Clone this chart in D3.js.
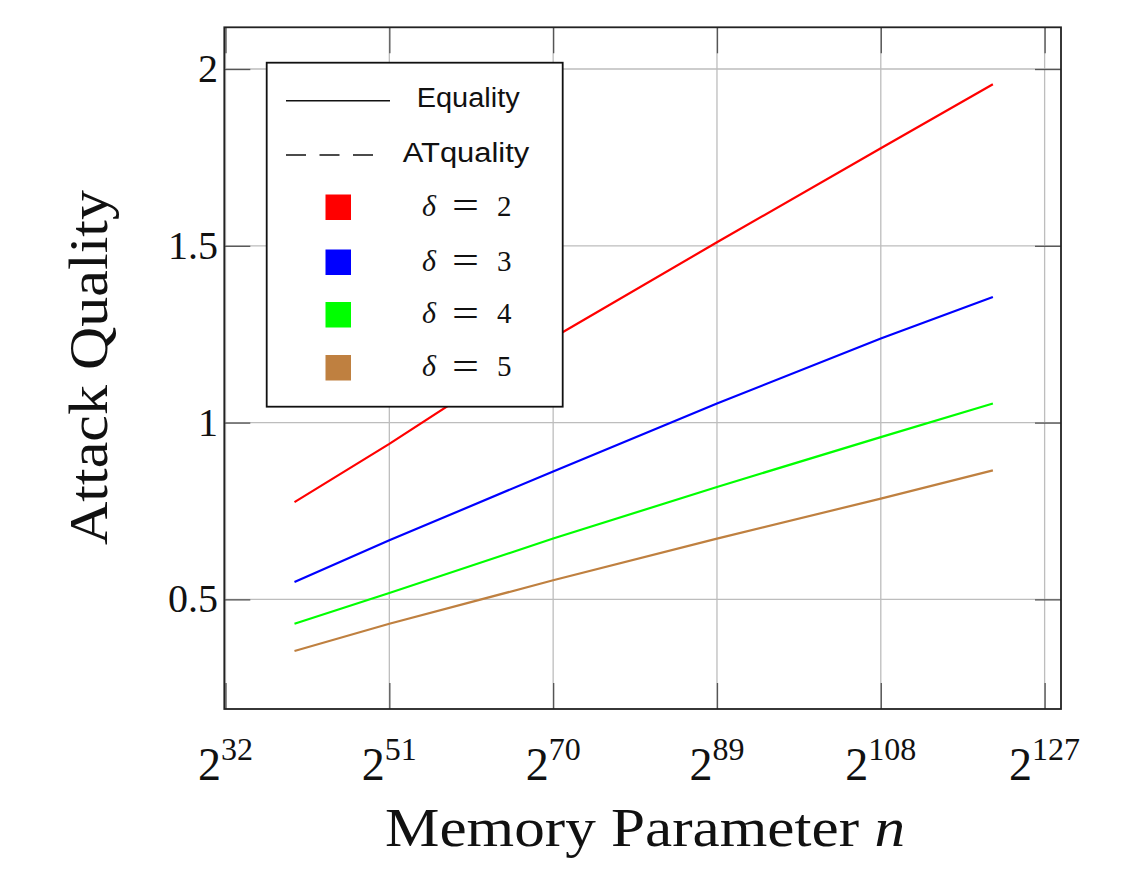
<!DOCTYPE html>
<html>
<head>
<meta charset="utf-8">
<script src="https://cdn.jsdelivr.net/npm/d3@7"></script>
<style>
  html, body { margin: 0; padding: 0; background: #fff; }
  svg { display: block; }
</style>
</head>
<body>
<svg id="chart" width="1136" height="879"></svg>
<script>
// ---- data ----
const exponents = [40, 51, 70, 89, 108, 121];          // n = 2^exponent
const equalityDelta2 = [0.775, 0.94, 1.24, 1.51, 1.776, 1.957];
const equalityDelta3 = [0.549, 0.667, 0.862, 1.054, 1.238, 1.355];
const equalityDelta4 = [0.431, 0.518, 0.672, 0.818, 0.959, 1.054];
const equalityDelta5 = [0.354, 0.431, 0.554, 0.672, 0.785, 0.865];
const deltas = [2, 3, 4, 5];
const seriesColors = ["#ff0000", "#0000ff", "#00ff00", "#bf8040"];
const xTickExponents = [32, 51, 70, 89, 108, 127];
const yTickValues = [0.5, 1, 1.5, 2];
const yTickLabels = ["0.5", "1", "1.5", "2"];

const series = [equalityDelta2, equalityDelta3, equalityDelta4, equalityDelta5].map((vals, i) => ({
  delta: deltas[i],
  color: seriesColors[i],
  points: exponents.map((e, j) => ({ n: Math.pow(2, e), q: vals[j] }))
}));

// ---- layout ----
const svg = d3.select("#chart");
const L = 224.3, R = 1061, T = 27.3, B = 709;

const x = d3.scaleLog().base(2)
  .domain([Math.pow(2, 31.86), Math.pow(2, 128.9)])
  .range([L, R]);
const y = d3.scaleLinear().domain([0.19, 2.118]).range([B, T]);

const serif = "'Liberation Serif', 'Times New Roman', serif";
const sans = "'Liberation Sans', Arial, sans-serif";

// grid
const g = svg.append("g");
g.append("g").selectAll("line").data(xTickExponents).join("line")
  .attr("x1", d => x(Math.pow(2, d))).attr("x2", d => x(Math.pow(2, d)))
  .attr("y1", T).attr("y2", B)
  .attr("stroke", "#bdbdbd").attr("stroke-width", 1.3);
g.append("g").selectAll("line").data(yTickValues).join("line")
  .attr("x1", L).attr("x2", R)
  .attr("y1", d => y(d)).attr("y2", d => y(d))
  .attr("stroke", "#bdbdbd").attr("stroke-width", 1.3);

// inner ticks on all four sides
const tickLen = 26;
const axB = d3.axisBottom(x).tickValues(xTickExponents.map(e => Math.pow(2, e))).tickSize(-tickLen).tickFormat("");
const axT = d3.axisTop(x).tickValues(xTickExponents.map(e => Math.pow(2, e))).tickSize(-tickLen).tickFormat("");
const axL = d3.axisLeft(y).tickValues(yTickValues).tickSize(-tickLen).tickFormat("");
const axR = d3.axisRight(y).tickValues(yTickValues).tickSize(-tickLen).tickFormat("");
[[axB, `translate(0,${B})`], [axT, `translate(0,${T})`], [axL, `translate(${L},0)`], [axR, `translate(${R},0)`]]
  .forEach(([ax, tr]) => {
    const a = svg.append("g").attr("transform", tr).call(ax);
    a.select(".domain").remove();
    a.selectAll("line").attr("stroke", "#555").attr("stroke-width", 1.3);
  });

// lines
const line = d3.line().x(d => x(d.n)).y(d => y(d.q));
svg.append("g").selectAll("path").data(series).join("path")
  .attr("d", d => line(d.points))
  .attr("fill", "none")
  .attr("stroke", d => d.color)
  .attr("stroke-width", 2.2);

// frame
svg.append("rect").attr("x", L).attr("y", T).attr("width", R - L).attr("height", B - T)
  .attr("fill", "none").attr("stroke", "#222").attr("stroke-width", 1.8);

// x tick labels 2^k
const xl = svg.append("g").selectAll("text").data(xTickExponents).join("text")
  .attr("x", d => x(Math.pow(2, d)))
  .attr("y", 780)
  .attr("text-anchor", "middle")
  .attr("font-family", serif)
  .attr("font-size", 46)
  .attr("fill", "#111");
xl.append("tspan").text("2");
xl.append("tspan").attr("dy", -20).attr("font-size", 32).text(d => d);

// y tick labels
svg.append("g").selectAll("text").data(yTickValues).join("text")
  .attr("x", 218)
  .attr("y", d => y(d) + 13)
  .attr("text-anchor", "end")
  .attr("font-family", serif)
  .attr("font-size", 40)
  .attr("fill", "#111")
  .text((d, i) => yTickLabels[i]);

// axis titles
const xt = svg.append("text")
  .attr("x", 645).attr("y", 846)
  .attr("text-anchor", "middle")
  .attr("font-family", serif).attr("font-size", 55).attr("fill", "#111")
  .attr("textLength", 520).attr("lengthAdjust", "spacingAndGlyphs");
xt.append("tspan").text("Memory Parameter ");
xt.append("tspan").attr("font-style", "italic").text("n");

svg.append("text")
  .attr("transform", "translate(107,367.5) rotate(-90)")
  .attr("text-anchor", "middle")
  .attr("font-family", serif).attr("font-size", 55).attr("fill", "#111")
  .attr("textLength", 355).attr("lengthAdjust", "spacingAndGlyphs")
  .text("Attack Quality");

// legend
const lg = svg.append("g");
lg.append("rect").attr("x", 266.7).attr("y", 62.7).attr("width", 296).attr("height", 344)
  .attr("fill", "#fff").attr("stroke", "#111").attr("stroke-width", 1.8);
lg.append("line").attr("x1", 286).attr("x2", 390).attr("y1", 100.7).attr("y2", 100.7)
  .attr("stroke", "#111").attr("stroke-width", 1.6);
lg.append("text").attr("x", 416.7).attr("y", 107.3)
  .attr("font-family", sans).attr("font-size", 27).attr("fill", "#111")
  .attr("textLength", 103).attr("lengthAdjust", "spacingAndGlyphs").text("Equality");
lg.append("line").attr("x1", 286).attr("x2", 377).attr("y1", 155).attr("y2", 155)
  .attr("stroke", "#111").attr("stroke-width", 1.6).attr("stroke-dasharray", "20,13.5");
lg.append("text").attr("x", 402.7).attr("y", 161.7)
  .attr("font-family", sans).attr("font-size", 27).attr("fill", "#111")
  .attr("textLength", 126.6).attr("lengthAdjust", "spacingAndGlyphs").text("ATquality");

const rowY = [207, 262, 314.5, 367.5];
const rows = lg.append("g").selectAll("g").data(series).join("g")
  .attr("transform", (d, i) => `translate(0,${rowY[i]})`);
rows.append("rect").attr("x", 325.5).attr("y", -12.5).attr("width", 25.5).attr("height", 25.5)
  .attr("fill", d => d.color);
rows.append("text").attr("x", 422).attr("y", 8.5)
  .attr("font-family", serif).attr("font-size", 30).attr("font-style", "italic").attr("fill", "#111")
  .text("δ");
rows.append("text").attr("x", 452).attr("y", 11)
  .attr("font-family", serif).attr("font-size", 38).attr("fill", "#111")
  .attr("textLength", 27).attr("lengthAdjust", "spacingAndGlyphs")
  .text("=");
rows.append("text").attr("x", 497).attr("y", 8.5)
  .attr("font-family", serif).attr("font-size", 29).attr("fill", "#111")
  .text(d => d.delta);
</script>
</body>
</html>
